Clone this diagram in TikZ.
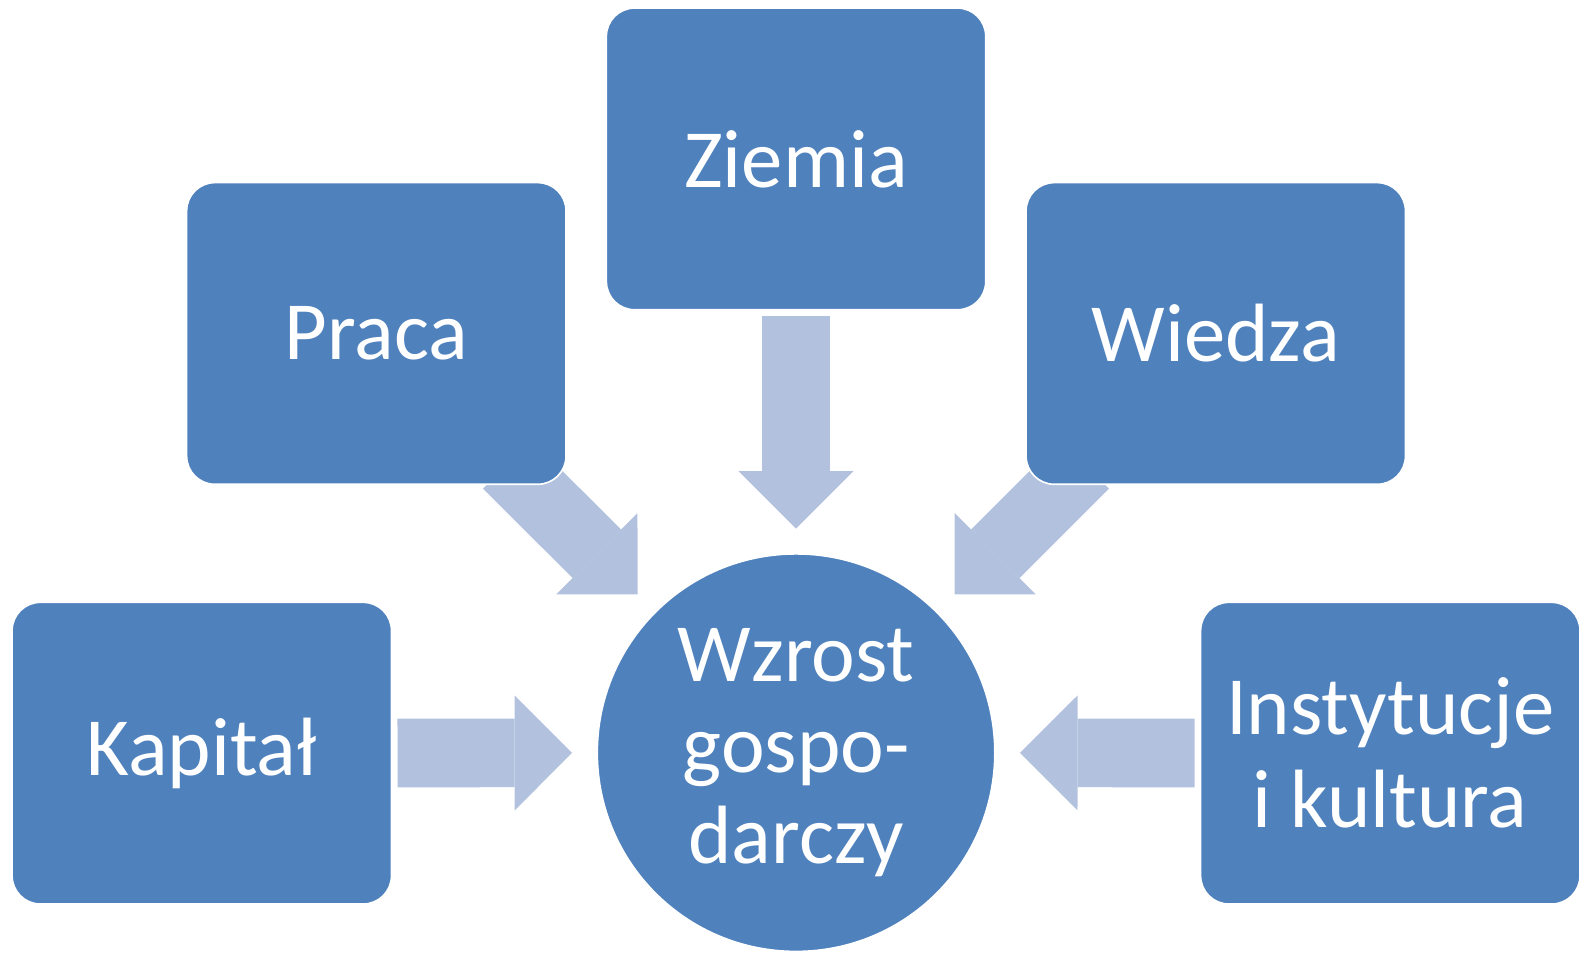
\documentclass[tikz,border=0pt]{standalone}
\usepackage{fontspec}
\setmainfont{Carlito}
\usetikzlibrary{arrows.meta,backgrounds}
\definecolor{boxblue}{HTML}{4F81BD}
\definecolor{arrowblue}{HTML}{B2C1DD}

\begin{document}
\begin{tikzpicture}[x=0.5pt,y=-0.5pt,
  factor node/.style={rectangle,rounded corners=14pt,draw=white,line width=0.8pt,fill=boxblue,
    minimum width=188pt,minimum height=149.5pt,inner sep=0pt,outer sep=0pt,
    text=white,align=center,font=\fontsize{41}{46}\selectfont},
  growth node/.style={circle,draw=white,line width=0.8pt,fill=boxblue,minimum size=197pt,
    inner sep=0pt,outer sep=0pt,text=white,align=center,font=\fontsize{41}{45}\selectfont},
  fat arrow/.style={draw=arrowblue,line width=34pt,
    -{Triangle[width=57pt,length=28.5pt,line width=0pt]}}]

  \useasboundingbox (0,0) rectangle (1568,944);

  \node[growth node] (wzrost) at (789,746) {Wzrost\\gospo-\\darczy};
  \node[factor node] (ziemia) at (789,157.5) {Ziemia};
  \node[factor node] (praca) at (373,330.5) {Praca};
  \node[factor node] (wiedza) at (1205,330.5) {Wiedza};
  \node[factor node] (kapital) at (200,746.5) {Kapitał};
  \node[factor node] (instytucje) at (1378,746.5) {Instytucje\\i kultura};

  % arrows go under the boxes
  \begin{pgfonlayer}{background}
    \draw[fat arrow,shorten <=3pt,shorten >=12.5pt] (ziemia) -- (wzrost);
    \draw[fat arrow,shorten <=3pt,shorten >=12.5pt] (kapital) -- (wzrost);
    \draw[fat arrow,shorten <=3pt,shorten >=12.5pt] (instytucje) -- (wzrost);
    \draw[fat arrow,shorten <=-14pt,shorten >=12.5pt] (praca) -- (wzrost);
    \draw[fat arrow,shorten <=-14pt,shorten >=12.5pt] (wiedza) -- (wzrost);
  \end{pgfonlayer}
\end{tikzpicture}
\end{document}
